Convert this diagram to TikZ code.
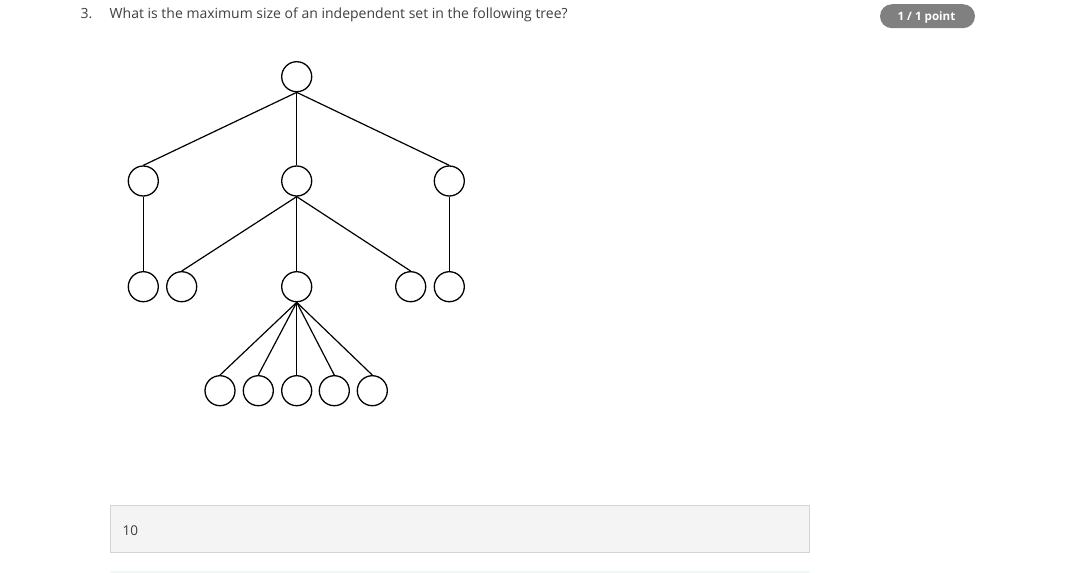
\documentclass[tikz,border=0pt]{standalone}
\usepackage{fontspec}
\setmainfont{Open Sans}
\definecolor{qtext}{HTML}{404040}
\definecolor{pill}{HTML}{808080}
\definecolor{boxfill}{HTML}{F4F4F4}
\definecolor{boxline}{HTML}{D4D4D4}
\definecolor{rule}{HTML}{F2F8F6}
\begin{document}
\begin{tikzpicture}[x=1pt,y=-1pt,
  vert/.style={circle,draw=black,line width=1.3pt,minimum size=30pt,inner sep=0pt,fill=white},
  edge/.style={line width=1.2pt,black},
  qlabel/.style={anchor=base west,inner sep=0pt,text=qtext,font=\fontsize{14}{16}\selectfont}]
\useasboundingbox (0,0) rectangle (1066,573);
\fill[white] (0,0) rectangle (1066,573);
% header
\node[qlabel] (num) at (80.5,18.5) {3.};
\node[qlabel] (question) at (109.5,18.5) {What is the maximum size of an independent set in the following tree?};
\node[fill=pill,rounded corners=12pt,minimum width=95pt,minimum height=24pt,inner sep=0pt] (score) at (927.5,16.2) {};
\node[anchor=base,inner sep=0pt,text=white,font=\bfseries\fontsize{11.6}{13}\selectfont] (scoretext) at (926.5,20.7) {1 / 1 point};
% tree
\node[vert] (r) at (296.7,76.7) {};
\node[vert] (a) at (143.3,181) {};
\node[vert] (b) at (296.7,181) {};
\node[vert] (c) at (449.3,181) {};
\node[vert] (a1) at (143.3,286.7) {};
\node[vert] (b1) at (181.7,286.7) {};
\node[vert] (b2) at (296.7,286.7) {};
\node[vert] (b3) at (410.7,286.7) {};
\node[vert] (c1) at (449.3,286.7) {};
\node[vert] (d1) at (220,390.7) {};
\node[vert] (d2) at (258.3,390.7) {};
\node[vert] (d3) at (296.7,390.7) {};
\node[vert] (d4) at (334.3,390.7) {};
\node[vert] (d5) at (372.3,390.7) {};
\foreach \u/\v in {r/a,r/b,r/c,a/a1,b/b1,b/b2,b/b3,c/c1,b2/d1,b2/d2,b2/d3,b2/d4,b2/d5}
  \draw[edge] (\u.south) -- (\v.north);
% answer box
\node[draw=boxline,line width=0.9pt,fill=boxfill,anchor=north west,minimum width=699pt,minimum height=47pt,inner sep=0pt] (answer) at (110.3,505.3) {};
\node[anchor=base west,inner sep=0pt,text=qtext,font=\fontsize{13.5}{15}\selectfont] (answertext) at (122.5,535) {10};
\fill[rule] (110,570.8) rectangle (809.7,573) coordinate (ruleend);
\end{tikzpicture}
\end{document}
